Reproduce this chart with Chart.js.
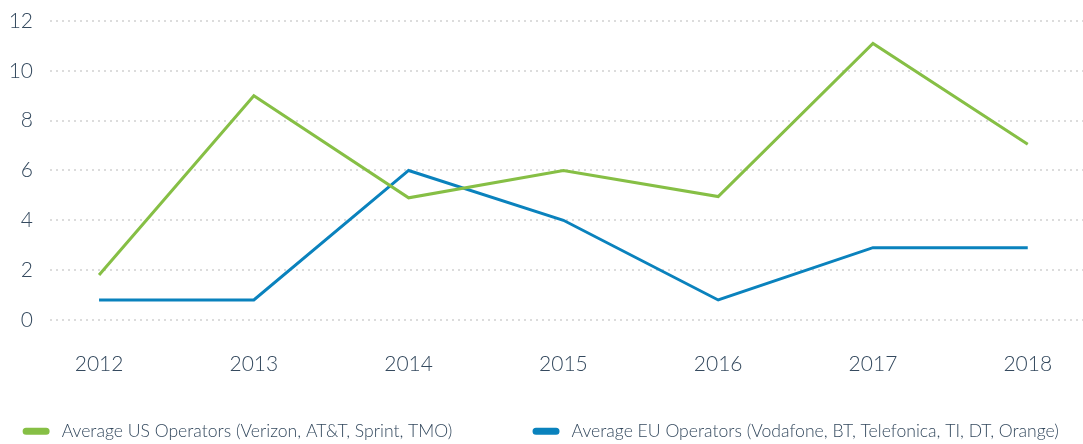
<!DOCTYPE html>
<html>
<head>
<meta charset="utf-8">
<script src="https://cdn.jsdelivr.net/npm/chart.js@4"></script>
<style>
  html, body { margin: 0; padding: 0; background: #ffffff; }
  #wrap { width: 1083px; height: 444px; }
</style>
</head>
<body>
<div id="wrap"><canvas id="opsChart" width="1083" height="444"></canvas></div>
<script>
// Years on the x axis and the two operator averages
const years = [2012, 2013, 2014, 2015, 2016, 2017, 2018];
const usOperators = [1.8, 9.0, 4.9, 6.0, 4.95, 11.1, 7.05];
const euOperators = [0.8, 0.8, 6.0, 4.0, 0.8, 2.9, 2.9];
const yTicks = [0, 2, 4, 6, 8, 10, 12];

const textColor = '#34495e';
const fontFamily = "Lato, 'Open Sans', sans-serif";

const toPoints = vals => vals.map((v, i) => ({ x: years[i], y: v }));

const ctx = document.getElementById('opsChart').getContext('2d');
const opsChart = new Chart(ctx, {
    type: 'line',
    data: {
        datasets: [{
            label: 'Average US Operators (Verizon, AT&T, Sprint, TMO)',
            data: toPoints(usOperators),
            borderColor: '#86bf45',
            backgroundColor: '#86bf45',
            borderWidth: 3,
            pointRadius: 0,
            tension: 0
        }, {
            label: 'Average EU Operators (Vodafone, BT, Telefonica, TI, DT, Orange)',
            data: toPoints(euOperators),
            borderColor: '#0a82bd',
            backgroundColor: '#0a82bd',
            borderWidth: 3,
            pointRadius: 0,
            tension: 0
        }]
    },
    options: {
        responsive: false,
        animation: false,
        layout: { padding: { left: 0, right: 0, top: 21, bottom: -6 } },
        plugins: {
            legend: {
                position: 'bottom',
                labels: {
                    color: textColor,
                    font: { family: fontFamily, size: 17.6, weight: '300' },
                    boxWidth: 24,
                    boxHeight: 4,
                    useBorderRadius: true,
                    borderRadius: 2,
                    padding: 10,
                    // a little extra room around the legend texts
                    generateLabels: chart => Chart.defaults.plugins.legend.labels.generateLabels(chart)
                        .map((item, i) => ({ ...item, text: ' ' + item.text + (i === 0 ? '\u00A0'.repeat(15) : '') }))
                }
            },
            tooltip: { enabled: false }
        },
        scales: {
            x: {
                type: 'linear',
                min: 2011.683,
                max: 2018.357,
                afterBuildTicks: axis => { axis.ticks = years.map(v => ({ value: v })); },
                afterFit: axis => { axis.height = 92.5; },
                ticks: {
                    color: textColor,
                    font: { family: fontFamily, size: 21, weight: '300' },
                    padding: 24,
                    maxRotation: 0,
                    callback: value => String(value)
                },
                grid: { display: false },
                border: { display: false }
            },
            y: {
                min: 0,
                max: 12,
                afterBuildTicks: axis => { axis.ticks = yTicks.map(v => ({ value: v })); },
                afterFit: axis => { axis.width = 50; axis.paddingTop = 0; },
                ticks: {
                    color: textColor,
                    font: { family: fontFamily, size: 21, weight: '300' },
                    padding: 17
                },
                grid: {
                    color: '#dcdcdc',
                    lineWidth: 2,
                    drawTicks: false
                },
                border: { display: false, dash: [2, 4] }
            }
        }
    }
});
</script>
</body>
</html>
